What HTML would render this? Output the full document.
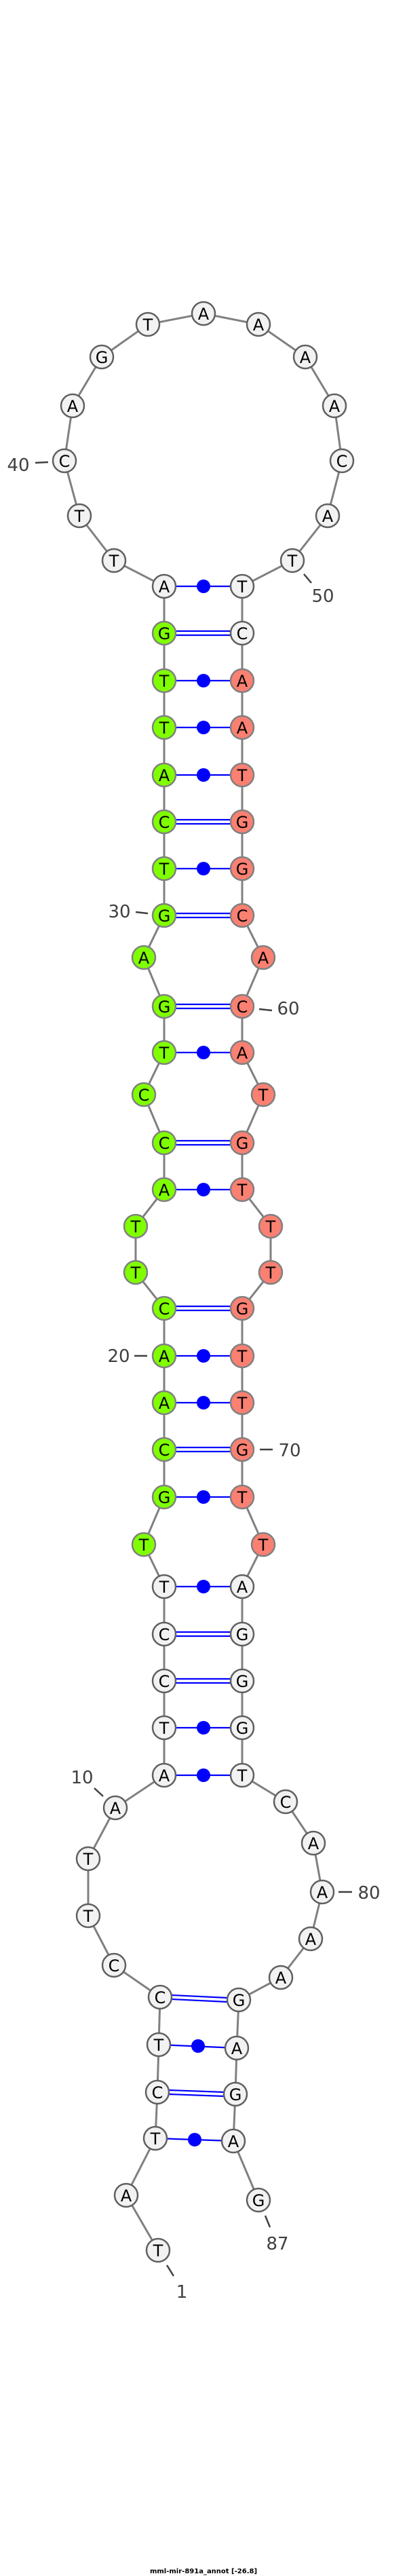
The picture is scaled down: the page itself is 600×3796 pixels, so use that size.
<!DOCTYPE html>
<html><head><meta charset="utf-8"><style>html,body{margin:0;padding:0;background:#fff}svg{display:block}</style></head>
<body>
<svg width="600" height="3796" viewBox="0 0 600 3796" xmlns="http://www.w3.org/2000/svg" font-family="'DejaVu Sans','Liberation Sans',sans-serif">
<g stroke="#0000ff" stroke-width="2.2">
<!-- double bonds -->
<line x1="249" y1="3080" x2="330" y2="3083"/><line x1="249" y1="3086" x2="330" y2="3089"/>
<line x1="253" y1="2940" x2="335" y2="2944"/><line x1="253" y1="2946" x2="335" y2="2950"/>
<line x1="259" y1="2474" x2="340" y2="2474"/><line x1="259" y1="2480" x2="340" y2="2480"/>
<line x1="259" y1="2405" x2="340" y2="2405"/><line x1="259" y1="2411" x2="340" y2="2411"/>
<line x1="259" y1="2133" x2="340" y2="2133"/><line x1="259" y1="2139" x2="340" y2="2139"/>
<line x1="259" y1="1925" x2="340" y2="1925"/><line x1="259" y1="1931" x2="340" y2="1931"/>
<line x1="259" y1="1681" x2="340" y2="1681"/><line x1="259" y1="1687" x2="340" y2="1687"/>
<line x1="259" y1="1480" x2="340" y2="1480"/><line x1="259" y1="1486" x2="340" y2="1486"/>
<line x1="259" y1="1346" x2="340" y2="1346"/><line x1="259" y1="1352" x2="340" y2="1352"/>
<line x1="259" y1="1208" x2="340" y2="1208"/><line x1="259" y1="1214" x2="340" y2="1214"/>
<line x1="259" y1="930" x2="340" y2="930"/><line x1="259" y1="936" x2="340" y2="936"/>
<!-- single bonds -->
<line x1="229" y1="3151" x2="344" y2="3155"/>
<line x1="234" y1="3013" x2="349" y2="3018"/>
<line x1="242" y1="2616" x2="357" y2="2616"/>
<line x1="242" y1="2546" x2="357" y2="2546"/>
<line x1="242" y1="2338" x2="357" y2="2338"/>
<line x1="242" y1="2206" x2="357" y2="2206"/>
<line x1="242" y1="2067" x2="357" y2="2067"/>
<line x1="242" y1="1998" x2="357" y2="1998"/>
<line x1="242" y1="1753" x2="357" y2="1753"/>
<line x1="242" y1="1551" x2="357" y2="1551"/>
<line x1="242" y1="1280" x2="357" y2="1280"/>
<line x1="242" y1="1142" x2="357" y2="1142"/>
<line x1="242" y1="1072" x2="357" y2="1072"/>
<line x1="242" y1="1003" x2="357" y2="1003"/>
<line x1="242" y1="864" x2="357" y2="864"/>
</g>
<g fill="#0000ff">
<circle cx="287" cy="3153" r="10"/><circle cx="292" cy="3015" r="10"/>
<circle cx="300" cy="2616" r="10"/><circle cx="300" cy="2546" r="10"/><circle cx="300" cy="2338" r="10"/>
<circle cx="300" cy="2206" r="10"/><circle cx="300" cy="2067" r="10"/><circle cx="300" cy="1998" r="10"/>
<circle cx="300" cy="1753" r="10"/><circle cx="300" cy="1551" r="10"/><circle cx="300" cy="1280" r="10"/>
<circle cx="300" cy="1142" r="10"/><circle cx="300" cy="1072" r="10"/><circle cx="300" cy="1003" r="10"/>
<circle cx="300" cy="864" r="10"/>
</g>
<polyline fill="none" stroke="#808080" stroke-width="3" points="233,3316 186,3235 229,3151 232,3083 234,3013 236,2943 168,2896 130,2823 130,2739 170,2664 242,2616 242,2546 242,2477 242,2408 242,2338 212,2276 242,2206 242,2136 242,2067 242,1998 242,1928 200,1875 200,1807 242,1753 242,1684 212,1613 242,1551 242,1483 212,1411 242,1349 242,1280 242,1211 242,1142 242,1072 242,1003 242,933 242,864 168,826 117,760 95,679 107,598 150,526 218,478 300,462 381,478 450,526 493,598 504,679 483,760 431,826 357,864 357,933 357,1003 357,1072 357,1142 357,1211 357,1280 357,1349 388,1411 357,1483 357,1551 388,1613 357,1684 357,1753 399,1807 399,1875 357,1928 357,1998 357,2067 357,2136 357,2206 388,2276 357,2338 357,2408 357,2477 357,2546 357,2616 421,2655 462,2716 475,2788 458,2857 414,2914 352,2947 349,3018 347,3086 344,3155 381,3242"/>
<g stroke-width="2.5">
<g fill="#f2f2f2" stroke="#606060">
<circle cx="233" cy="3316" r="17"/><circle cx="186" cy="3235" r="17"/><circle cx="229" cy="3151" r="17"/><circle cx="232" cy="3083" r="17"/><circle cx="234" cy="3013" r="17"/><circle cx="236" cy="2943" r="17"/><circle cx="168" cy="2896" r="17"/><circle cx="130" cy="2823" r="17"/><circle cx="130" cy="2739" r="17"/><circle cx="170" cy="2664" r="17"/><circle cx="242" cy="2616" r="17"/><circle cx="242" cy="2546" r="17"/><circle cx="242" cy="2477" r="17"/><circle cx="242" cy="2408" r="17"/><circle cx="242" cy="2338" r="17"/>
<circle cx="242" cy="864" r="17"/><circle cx="168" cy="826" r="17"/><circle cx="117" cy="760" r="17"/><circle cx="95" cy="679" r="17"/><circle cx="107" cy="598" r="17"/><circle cx="150" cy="526" r="17"/><circle cx="218" cy="478" r="17"/><circle cx="300" cy="462" r="17"/><circle cx="381" cy="478" r="17"/><circle cx="450" cy="526" r="17"/><circle cx="493" cy="598" r="17"/><circle cx="504" cy="679" r="17"/><circle cx="483" cy="760" r="17"/><circle cx="431" cy="826" r="17"/><circle cx="357" cy="864" r="17"/><circle cx="357" cy="933" r="17"/>
<circle cx="357" cy="2338" r="17"/><circle cx="357" cy="2408" r="17"/><circle cx="357" cy="2477" r="17"/><circle cx="357" cy="2546" r="17"/><circle cx="357" cy="2616" r="17"/><circle cx="421" cy="2655" r="17"/><circle cx="462" cy="2716" r="17"/><circle cx="475" cy="2788" r="17"/><circle cx="458" cy="2857" r="17"/><circle cx="414" cy="2914" r="17"/><circle cx="352" cy="2947" r="17"/><circle cx="349" cy="3018" r="17"/><circle cx="347" cy="3086" r="17"/><circle cx="344" cy="3155" r="17"/><circle cx="381" cy="3242" r="17"/>
</g>
<g fill="#7fff00" stroke="#808080">
<circle cx="212" cy="2276" r="17"/><circle cx="242" cy="2206" r="17"/><circle cx="242" cy="2136" r="17"/><circle cx="242" cy="2067" r="17"/><circle cx="242" cy="1998" r="17"/><circle cx="242" cy="1928" r="17"/><circle cx="200" cy="1875" r="17"/><circle cx="200" cy="1807" r="17"/><circle cx="242" cy="1753" r="17"/><circle cx="242" cy="1684" r="17"/><circle cx="212" cy="1613" r="17"/><circle cx="242" cy="1551" r="17"/><circle cx="242" cy="1483" r="17"/><circle cx="212" cy="1411" r="17"/><circle cx="242" cy="1349" r="17"/><circle cx="242" cy="1280" r="17"/><circle cx="242" cy="1211" r="17"/><circle cx="242" cy="1142" r="17"/><circle cx="242" cy="1072" r="17"/><circle cx="242" cy="1003" r="17"/><circle cx="242" cy="933" r="17"/>
</g>
<g fill="#fa8072" stroke="#808080">
<circle cx="357" cy="1003" r="17"/><circle cx="357" cy="1072" r="17"/><circle cx="357" cy="1142" r="17"/><circle cx="357" cy="1211" r="17"/><circle cx="357" cy="1280" r="17"/><circle cx="357" cy="1349" r="17"/><circle cx="388" cy="1411" r="17"/><circle cx="357" cy="1483" r="17"/><circle cx="357" cy="1551" r="17"/><circle cx="388" cy="1613" r="17"/><circle cx="357" cy="1684" r="17"/><circle cx="357" cy="1753" r="17"/><circle cx="399" cy="1807" r="17"/><circle cx="399" cy="1875" r="17"/><circle cx="357" cy="1928" r="17"/><circle cx="357" cy="1998" r="17"/><circle cx="357" cy="2067" r="17"/><circle cx="357" cy="2136" r="17"/><circle cx="357" cy="2206" r="17"/><circle cx="388" cy="2276" r="17"/>
</g>
</g>
<g font-size="24" text-anchor="middle" fill="#000">
<text x="233" y="3325">T</text><text x="186" y="3244">A</text><text x="229" y="3160">T</text><text x="232" y="3092">C</text><text x="234" y="3022">T</text><text x="236" y="2952">C</text><text x="168" y="2905">C</text><text x="130" y="2832">T</text><text x="130" y="2748">T</text><text x="170" y="2673">A</text><text x="242" y="2625">A</text><text x="242" y="2555">T</text><text x="242" y="2486">C</text><text x="242" y="2417">C</text><text x="242" y="2347">T</text>
<text x="212" y="2285">T</text><text x="242" y="2215">G</text><text x="242" y="2145">C</text><text x="242" y="2076">A</text><text x="242" y="2007">A</text><text x="242" y="1937">C</text><text x="200" y="1884">T</text><text x="200" y="1816">T</text><text x="242" y="1762">A</text><text x="242" y="1693">C</text><text x="212" y="1622">C</text><text x="242" y="1560">T</text><text x="242" y="1492">G</text><text x="212" y="1420">A</text><text x="242" y="1358">G</text><text x="242" y="1289">T</text><text x="242" y="1220">C</text><text x="242" y="1151">A</text><text x="242" y="1081">T</text><text x="242" y="1012">T</text><text x="242" y="942">G</text>
<text x="242" y="873">A</text><text x="168" y="835">T</text><text x="117" y="769">T</text><text x="95" y="688">C</text><text x="107" y="607">A</text><text x="150" y="535">G</text><text x="218" y="487">T</text><text x="300" y="471">A</text><text x="381" y="487">A</text><text x="450" y="535">A</text><text x="493" y="607">A</text><text x="504" y="688">C</text><text x="483" y="769">A</text><text x="431" y="835">T</text><text x="357" y="873">T</text><text x="357" y="942">C</text>
<text x="357" y="1012">A</text><text x="357" y="1081">A</text><text x="357" y="1151">T</text><text x="357" y="1220">G</text><text x="357" y="1289">G</text><text x="357" y="1358">C</text><text x="388" y="1420">A</text><text x="357" y="1492">C</text><text x="357" y="1560">A</text><text x="388" y="1622">T</text><text x="357" y="1693">G</text><text x="357" y="1762">T</text><text x="399" y="1816">T</text><text x="399" y="1884">T</text><text x="357" y="1937">G</text><text x="357" y="2007">T</text><text x="357" y="2076">T</text><text x="357" y="2145">G</text><text x="357" y="2215">T</text><text x="388" y="2285">T</text>
<text x="357" y="2347">A</text><text x="357" y="2417">G</text><text x="357" y="2486">G</text><text x="357" y="2555">G</text><text x="357" y="2625">T</text><text x="421" y="2664">C</text><text x="462" y="2725">A</text><text x="475" y="2797">A</text><text x="458" y="2866">A</text><text x="414" y="2923">A</text><text x="352" y="2956">G</text><text x="349" y="3027">A</text><text x="347" y="3095">G</text><text x="344" y="3164">A</text><text x="381" y="3251">G</text>
</g>
<g stroke="#404040" stroke-width="2.5">
<line x1="52" y1="682" x2="71" y2="681"/>
<line x1="448" y1="846" x2="459" y2="859"/>
<line x1="200" y1="1344" x2="218" y2="1346"/>
<line x1="382" y1="1487" x2="401" y2="1489"/>
<line x1="198" y1="1998" x2="217" y2="1998"/>
<line x1="383" y1="2136" x2="402" y2="2136"/>
<line x1="139" y1="2635" x2="152" y2="2647"/>
<line x1="499" y1="2788" x2="519" y2="2788"/>
<line x1="391" y1="3265" x2="398" y2="3282"/>
<line x1="246" y1="3338" x2="256" y2="3354"/>
</g>
<g font-size="26" text-anchor="middle" fill="#404040">
<text x="27" y="694">40</text>
<text x="476" y="887">50</text>
<text x="176" y="1352">30</text>
<text x="425" y="1495">60</text>
<text x="175" y="2007">20</text>
<text x="427" y="2146">70</text>
<text x="121" y="2628">10</text>
<text x="544" y="2798">80</text>
<text x="409" y="3315">87</text>
<text x="268" y="3386">1</text>
</g>
<text x="300" y="3792" font-size="10" font-weight="bold" text-anchor="middle" fill="#000">mml-mir-891a_annot [-26.8]</text>
</svg>
</body></html>
